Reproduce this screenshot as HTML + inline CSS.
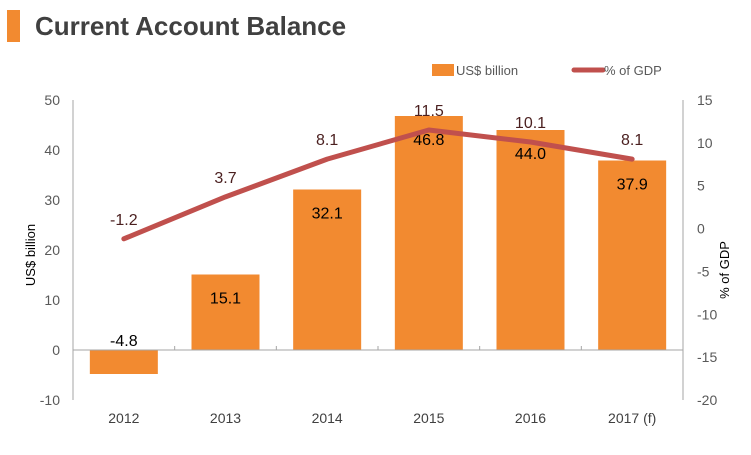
<!DOCTYPE html>
<html><head><meta charset="utf-8"><style>
body{margin:0;background:#fff;}
svg text{font-family:"Liberation Sans",Arial,sans-serif;}
</style></head><body>
<svg width="751" height="450" xmlns="http://www.w3.org/2000/svg">
<rect x="7" y="10" width="13" height="32" fill="#f28a30"/>
<text x="35" y="35" font-size="26" font-weight="bold" fill="#404040">Current Account Balance</text>
<g>
<rect x="432" y="64" width="22" height="12" fill="#f28a30"/>
<text x="456" y="75" font-size="13" fill="#595959">US$ billion</text>
<line x1="574" y1="70" x2="603" y2="70" stroke="#c0504d" stroke-width="5" stroke-linecap="round"/>
<text x="604" y="75" font-size="13" fill="#595959">% of GDP</text>
</g>
<g id="plot"></g>
<text transform="translate(35,255) rotate(-90)" text-anchor="middle" font-size="13" fill="#000">US$ billion</text>
<text transform="translate(729,270) rotate(-90)" text-anchor="middle" font-size="13" fill="#000">% of GDP</text>
</svg>
<script>
const categories=["2012","2013","2014","2015","2016","2017 (f)"];
const usdValues=[-4.8,15.1,32.1,46.8,44.0,37.9];
const gdpValues=[-1.2,3.7,8.1,11.5,10.1,8.1];
const leftTicks=[50,40,30,20,10,0,-10];
const rightTicks=[15,10,5,0,-5,-10,-15,-20];
const NS="http://www.w3.org/2000/svg";
const g=document.getElementById('plot');
const X0=73,X1=683,Y0=100,Y1=400;
const yL=v=>Y0+(50-v)/60*(Y1-Y0);
const yR=v=>Y0+(15-v)/35*(Y1-Y0);
const bw=(X1-X0)/categories.length;
const xc=i=>X0+bw*(i+0.5);
function mk(t,a,txt){const e=document.createElementNS(NS,t);for(const k in a)e.setAttribute(k,a[k]);if(txt!==undefined)e.textContent=txt;g.appendChild(e);return e;}
leftTicks.forEach(v=>{const e=mk('text',{x:60,y:yL(v)+5,'text-anchor':'end','font-size':14,fill:'#595959'},v);

});
rightTicks.forEach(v=>{const e=mk('text',{x:697,y:yR(v)+5,'font-size':14,fill:'#595959'},v);

});
usdValues.forEach((v,i)=>{const top=Math.min(yL(v),yL(0)),h=Math.abs(yL(v)-yL(0));
const r=mk('rect',{x:xc(i)-34,y:top,width:68,height:h,fill:'#f28a30'});


const ly=v<0?yL(0)-4:yL(v)+29;
const t=mk('text',{x:xc(i),y:ly,'text-anchor':'middle','font-size':16,fill:'#000'},v.toFixed(1));

});
const ax=mk('path',{d:`M${X0},${Y0}V${Y1}M${X1},${Y0}V${Y1}M${X0},${yL(0)}H${X1}`,stroke:'#a6a6a6','stroke-width':1,fill:'none'});


for(let i=1;i<categories.length;i++){const tk=mk('line',{x1:X0+bw*i,x2:X0+bw*i,y1:yL(0),y2:yL(0)-4,stroke:'#a6a6a6'});

}
categories.forEach((c,i)=>{const t=mk('text',{x:xc(i),y:423,'text-anchor':'middle','font-size':14,fill:'#404040'},c);

});
const pts=gdpValues.map((v,i)=>xc(i)+','+yR(v)).join(' ');
const pl=mk('polyline',{points:pts,fill:'none',stroke:'#c0504d','stroke-width':5,'stroke-linecap':'round','stroke-linejoin':'round'});


gdpValues.forEach((v,i)=>{const t=mk('text',{x:xc(i),y:yR(v)-14,'text-anchor':'middle','font-size':16,fill:'#4a1f1f'},v.toFixed(1));

});
</script>
</body></html>
